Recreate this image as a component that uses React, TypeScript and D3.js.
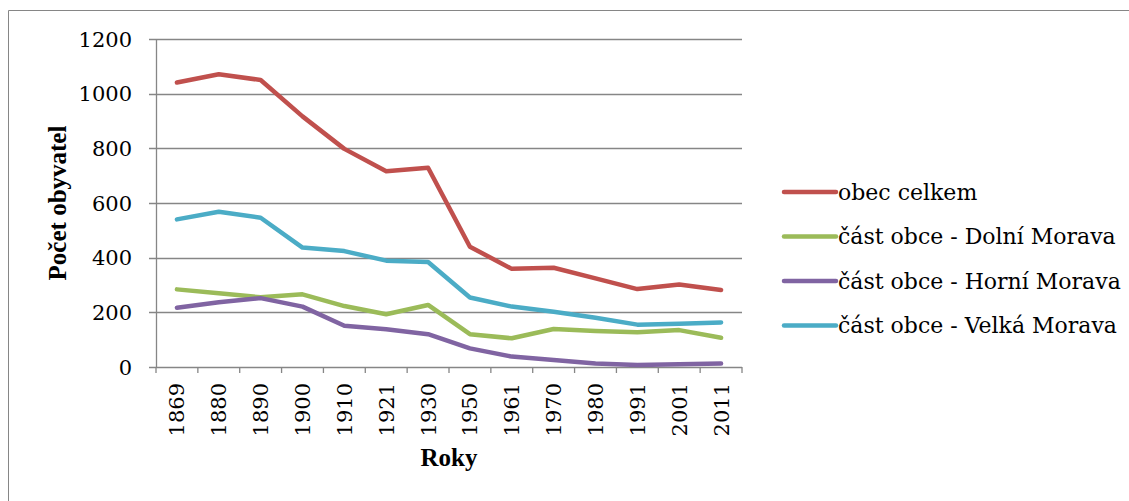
import React from "react";
import * as d3 from "d3";

const years = ["1869","1880","1890","1900","1910","1921","1930","1950","1961","1970","1980","1991","2001","2011"];
const obecCelkem = [1041,1071,1050,917,798,716,729,440,359,363,324,285,302,282];
const dolniMorava = [284,270,255,266,223,193,227,120,105,139,132,127,135,107];
const horniMorava = [217,237,252,221,151,138,120,68,38,26,13,7,10,13];
const velkaMorava = [540,568,546,437,424,389,384,254,221,202,180,155,158,163];
const yTicks = [0,200,400,600,800,1000,1200];

const seriesNames = ["obec celkem","část obce - Dolní Morava","část obce - Horní Morava","část obce - Velká Morava"];
const seriesColors = ["#C0504D","#9BBB59","#8064A2","#4BACC6"];
const seriesValues = [obecCelkem, dolniMorava, horniMorava, velkaMorava];

export default function App() {
  const W = 1129, H = 501;
  const left = 156, right = 742, top = 39, bottom = 367;
  const x = d3.scaleBand<string>().domain(years).range([left, right]).padding(0);
  const y = d3.scaleLinear().domain([0, 1200]).range([bottom, top]);
  const cx = (d: string) => (x(d) as number) + x.bandwidth() / 2;
  const line = d3.line<number>().x((_, i) => cx(years[i])).y((v) => y(v));
  const font = "'DejaVu Serif', serif";
  const gray = "#868686";
  const bounds = [...years.map((d) => x(d) as number), right];
  const ts: React.CSSProperties = { fontFamily: font };
  const bs: React.CSSProperties = { fontFamily: "'Liberation Serif', 'Times New Roman', serif" };
  return (
    <svg width={W} height={H} style={{ position: "absolute", left: 0, top: 0, background: "#fff" }}>
      <path d={`M8.5,${H + 5} L8.5,10.5 L${W + 5},10.5`} fill="none" stroke={gray} strokeWidth={1} />
      {yTicks.map((t) => (
        <g key={t}>
          <line x1={left - 7} x2={right} y1={Math.round(y(t)) + 0.5} y2={Math.round(y(t)) + 0.5} stroke={gray} strokeWidth={1.3} />
          <text x={132} y={y(t)} dy="0.36em" textAnchor="end" fontSize={21} fill="#000" style={ts}>{t}</text>
        </g>
      ))}
      <line x1={left + 0.5} x2={left + 0.5} y1={top} y2={bottom + 0.5} stroke={gray} strokeWidth={1.3} />
      {bounds.map((b, i) => (
        <line key={i} x1={b} x2={b} y1={bottom} y2={bottom + 6} stroke={gray} strokeWidth={1.3} />
      ))}
      {years.map((d) => (
        <text key={d} transform={`translate(${cx(d)},383) rotate(-90)`} dy="0.36em" textAnchor="end" fontSize={21} fill="#000" style={ts}>{d}</text>
      ))}
      {seriesValues.map((vals, i) => (
        <path key={i} d={line(vals) || ""} fill="none" stroke={seriesColors[i]} strokeWidth={4.5} strokeLinejoin="round" strokeLinecap="round" />
      ))}
      <text transform={`translate(57,${(top + bottom) / 2}) rotate(-90)`} dy="0.35em" textAnchor="middle" fontSize={25} fontWeight="bold" fill="#000" style={bs}>Počet obyvatel</text>
      <text x={(left + right) / 2} y={466} textAnchor="middle" fontSize={25} fontWeight="bold" fill="#000" style={bs}>Roky</text>
      {seriesNames.map((n, i) => {
        const ly = 192 + i * 44.5;
        return (
          <g key={n}>
            <line x1={784} x2={836} y1={ly} y2={ly} stroke={seriesColors[i]} strokeWidth={4.5} strokeLinecap="round" />
            <text x={838} y={ly} dy="0.36em" fontSize={22} fill="#000" style={ts}>{n}</text>
          </g>
        );
      })}
    </svg>
  );
}
